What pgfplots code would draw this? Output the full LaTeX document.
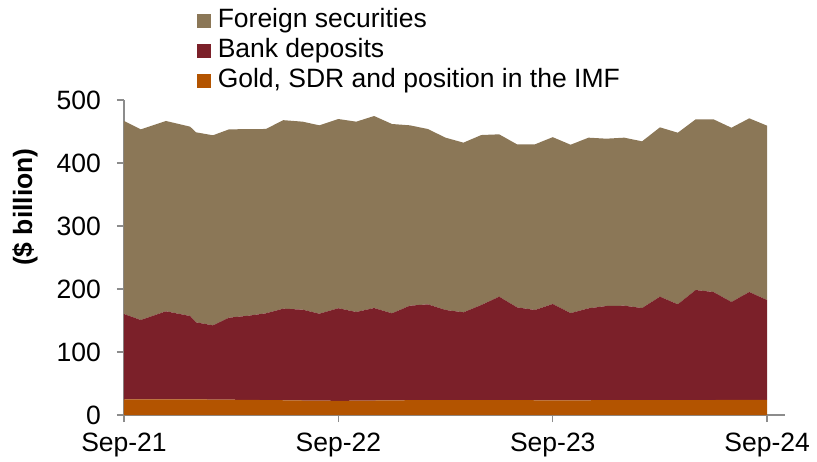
\documentclass[border=0pt]{standalone}
\usepackage{fontspec}
\setmainfont{Liberation Sans}
\usepackage{pgfplots}
\usepackage{pgfplotstable}
\pgfplotsset{compat=1.18}

\definecolor{secc}{HTML}{8B7757}
\definecolor{bankc}{HTML}{7B2029}
\definecolor{goldc}{HTML}{B35400}
\definecolor{axc}{HTML}{8C8C8C}

% x = months since Sep-21; components in $ billion
\pgfplotstableread{
x     gold  bank   sec
0     25.0  135.3  306.4
0.94  25.0  125.8  302.6
2.35  25.0  139.6  302.1
3.70  24.8  132.3  300.6
4.03  24.8  122.3  301.6
4.98  24.5  117.8  301.7
5.88  24.3  130.2  298.9
7     24.0  133.7  296.1
7.94  23.7  137.7  292.6
8.92  23.4  145.4  299.2
10    23.0  144.2  298.4
10.93 22.8  138.0  299.0
12    22.5  147.0  300.3
13    22.7  140.8  302.1
14    23.0  146.8  304.8
15    23.2  138.2  300.5
16    23.5  150.0  286.3
17    23.7  152.0  278.3
18    23.8  142.9  273.5
19    23.8  139.2  269.3
20    23.8  150.8  269.8
21    23.8  164.0  257.7
22    23.6  147.3  258.7
23    23.4  143.3  262.9
24    23.3  152.9  264.8
25    23.3  138.4  267.3
26    23.4  145.9  270.9
27    23.5  149.5  265.6
28    23.5  150.0  266.7
29    23.5  146.3  264.6
30    23.5  164.3  268.8
31    23.6  152.1  272.4
32    23.7  174.7  270.9
33    23.8  171.4  274.1
34    23.9  155.5  276.6
35    24.0  171.2  275.7
36    24.0  158.5  276.7
}\reserves

\begin{document}
\begin{tikzpicture}
\begin{axis}[
  at={(0,0)}, anchor=south west,
  scale only axis, width=661bp, height=315bp,
  xmin=0, xmax=37, ymin=0, ymax=500,
  stack plots=y,
  axis x line*=bottom, axis y line*=left,
  axis line style={axc, line width=1.3bp},
  tick style={axc, line width=1.3bp},
  tick align=outside,
  major tick length=7bp,
  xtick={0,12,24,36},
  xticklabels={Sep-21,Sep-22,Sep-23,Sep-24},
  ytick={0,100,...,500},
  /pgf/number format/assume math mode=true,
  tick label style={font=\fontsize{26.5bp}{30bp}\selectfont, inner sep=0pt},
  yticklabel style={anchor=east, xshift=-16bp},
  xticklabel style={anchor=north, yshift=-11bp},
  ylabel={\bfseries (\$ billion)},
  ylabel style={font=\fontsize{26.5bp}{30bp}\selectfont,
    at={(axis description cs:-0.1498,0.66)}, anchor=center},
  reverse legend,
  legend cell align=left,
  legend style={draw=none, fill=none, at={(axis description cs:0.106,1.305)},
    anchor=north west, column sep=4bp, row sep=0pt,
    font=\fontsize{26.5bp}{30bp}\selectfont,
    nodes={text height=19bp, text depth=6bp, inner sep=2.5bp}},
  legend image code/.code={\fill[#1,draw=none] (0bp,-7bp) rectangle (14bp,7bp);},
]
\addplot[fill=goldc, draw=none] table[x=x, y=gold]{\reserves} \closedcycle;
\addlegendentry{Gold, SDR and position in the IMF}
\addplot[fill=bankc, draw=none] table[x=x, y=bank]{\reserves} \closedcycle;
\addlegendentry{Bank deposits}
\addplot[fill=secc, draw=none] table[x=x, y=sec]{\reserves} \closedcycle;
\addlegendentry{Foreign securities}
\end{axis}
\path[use as bounding box] (-124bp,-47bp) rectangle (693bp,415bp);
\end{tikzpicture}
\end{document}
